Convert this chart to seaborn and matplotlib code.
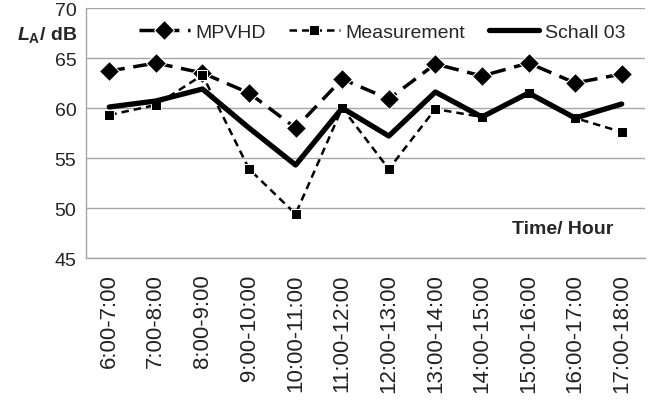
import numpy as np
import seaborn as sns
import matplotlib.pyplot as plt

# time slots and sound levels (dB)
hours = ['6:00-7:00', '7:00-8:00', '8:00-9:00', '9:00-10:00', '10:00-11:00',
         '11:00-12:00', '12:00-13:00', '13:00-14:00', '14:00-15:00',
         '15:00-16:00', '16:00-17:00', '17:00-18:00']
mpvhd = [63.7, 64.5, 63.5, 61.5, 58.0, 62.9, 60.9, 64.4, 63.2, 64.5, 62.5, 63.4]
measurement = [59.3, 60.3, 63.3, 53.9, 49.4, 60.0, 53.9, 59.9, 59.1, 61.5, 59.0, 57.6]
schall03 = [60.1, 60.7, 61.9, 58.0, 54.3, 60.0, 57.2, 61.6, 59.1, 61.5, 59.0, 60.4]

sns.set_style('white')
plt.rcParams['font.family'] = ['Liberation Sans', 'DejaVu Sans']
plt.rcParams['mathtext.fontset'] = 'custom'
plt.rcParams['mathtext.it'] = 'Liberation Sans:bold:italic'
plt.rcParams['mathtext.bf'] = 'Liberation Sans:bold'
plt.rcParams['mathtext.rm'] = 'Liberation Sans:bold'

fig = plt.figure(figsize=(6.54, 4.10), dpi=100)
ax = fig.add_axes([86 / 654, 1 - 259 / 410, (645 - 86) / 654, (259 - 9) / 410])

sns.lineplot(x=hours, y=mpvhd, ax=ax, color='black', marker='D', markersize=10,
             linestyle=(0, (4.5, 2.5)), linewidth=2.5, label='MPVHD', sort=False)
sns.lineplot(x=hours, y=measurement, ax=ax, color='black', marker='s', markersize=7.5,
             linestyle=(0, (3, 2)), linewidth=1.8, label='Measurement', sort=False)
sns.lineplot(x=hours, y=schall03, ax=ax, color='black', linewidth=3.8,
             label='Schall 03', sort=False)

ax.set_xlim(-0.5, 11.5)
ax.set_ylim(45, 70)
ax.set_yticks(np.arange(45, 71, 5))
ax.set_xticks(range(len(hours)))
ax.set_xticklabels(hours, rotation=90, fontsize=16, color='#222222')
ax.set_xticks(np.arange(-0.5, len(hours), 1), minor=True)
ax.tick_params(axis='x', which='major', length=0, pad=11)
ax.tick_params(axis='x', which='minor', length=7, color='#a6a6a6', width=1)
ax.tick_params(axis='y', length=5, color='#a6a6a6', labelsize=14, labelcolor='#222222', pad=2)
ax.grid(axis='y', color='#a6a6a6', linewidth=1)
ax.set_axisbelow(True)
for side in ['top', 'right']:
    ax.spines[side].set_visible(False)
for side in ['left', 'bottom']:
    ax.spines[side].set_color('#a6a6a6')
    ax.spines[side].set_linewidth(1)
ax.set_xlabel('')
ax.set_ylabel('')

ax.legend(loc='center', bbox_to_anchor=(0.53, 0.905), ncol=3, frameon=False,
          fontsize=14, handlelength=2.6, columnspacing=1.2, handletextpad=0.3)

fig.text(17 / 654, 1 - 35 / 410, r'$L_{\mathrm{A}}$/ dB', fontsize=14,
         fontweight='bold', va='center', ha='left')
fig.text(512 / 654, 1 - 230 / 410, 'Time/ Hour', fontsize=14,
         fontweight='bold', va='center', ha='left')

fig.savefig('out.png', dpi=100)
